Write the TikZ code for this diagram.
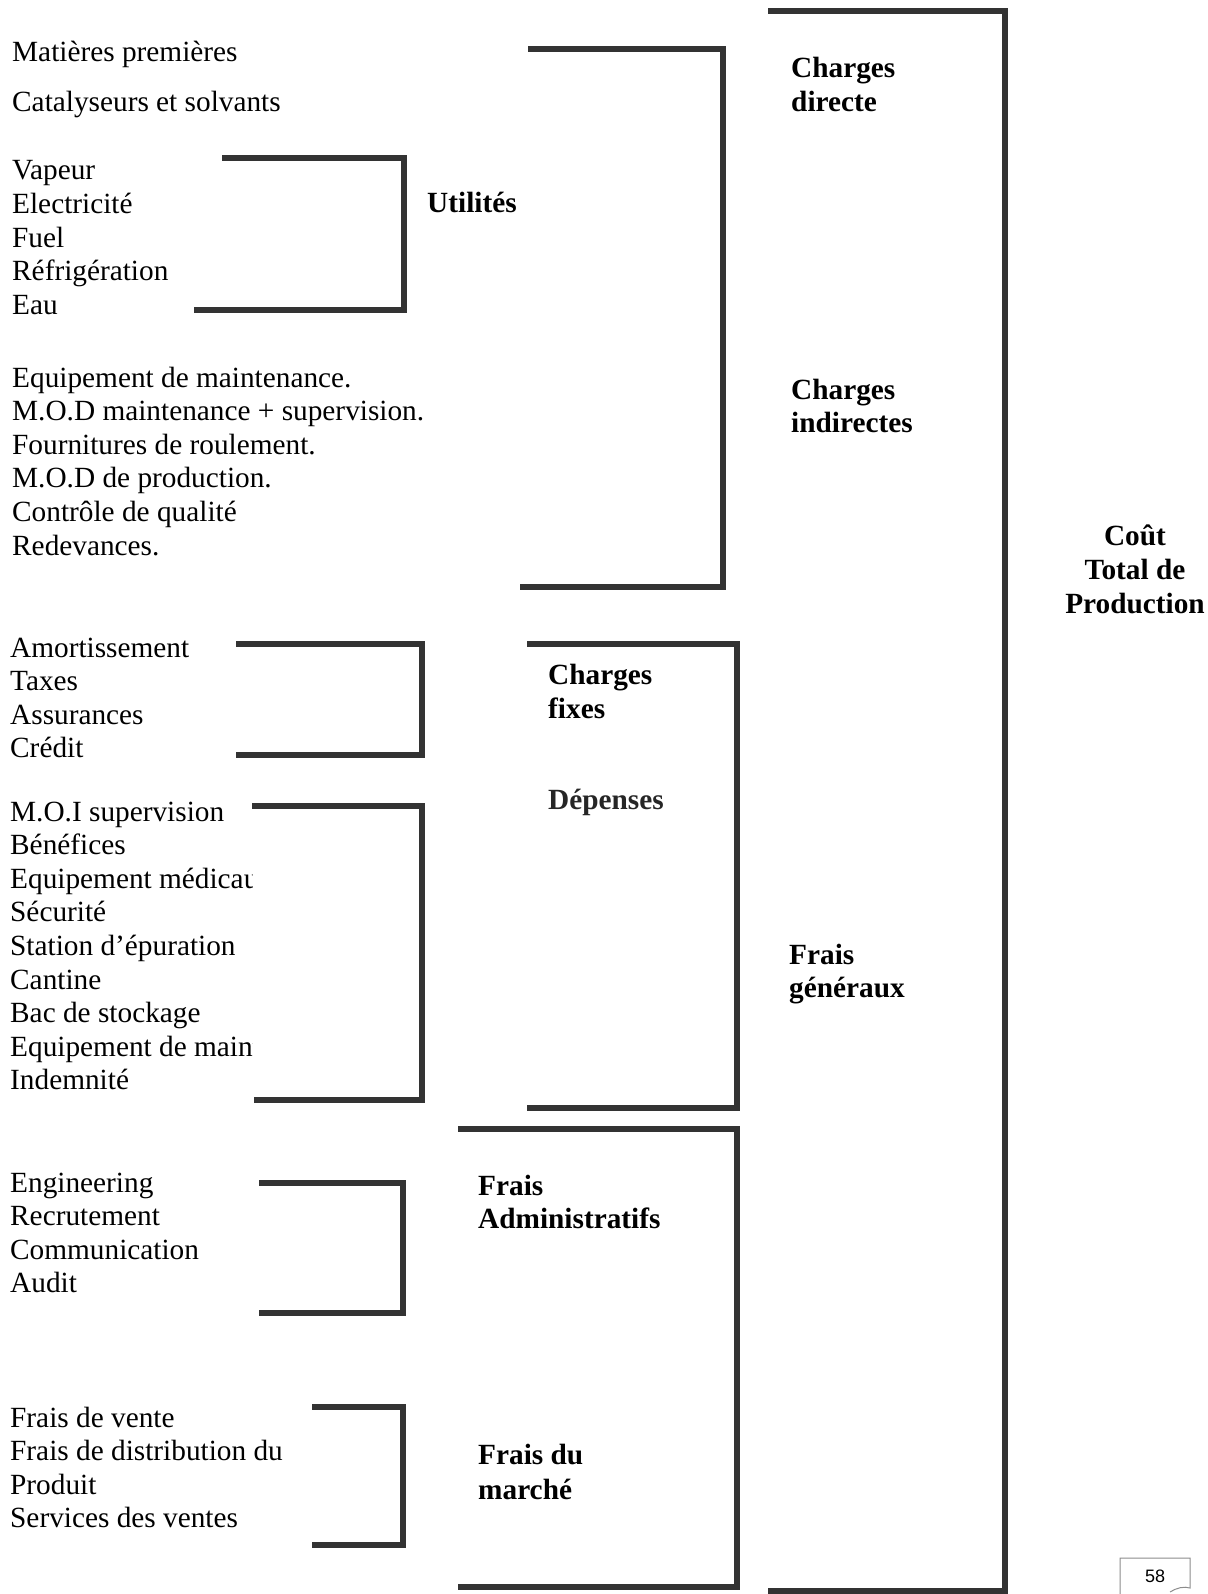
\documentclass[tikz,border=0pt]{standalone}
\usepackage{fontspec}
\setmainfont{Liberation Serif}
\newfontfamily\numfont{Liberation Sans}
\begin{document}
\begin{tikzpicture}[x=1pt,y=-1pt,
 item/.style={anchor=base west, inner sep=0pt, font=\fontsize{29.3}{33.6}\selectfont},
 lab/.style={anchor=base west, inner sep=0pt, font=\fontsize{29.3}{33.6}\selectfont\bfseries},
 clab/.style={anchor=base, inner sep=0pt, font=\fontsize{29.3}{33.6}\selectfont\bfseries},
 brk/.style={line width=5.5pt, draw=black!80, line cap=butt, line join=miter}]
\useasboundingbox (0,0) rectangle (1207,1594);

% left texts
\node[item] (a1) at (12,62) {Matières premières};
\node[item] (a2) at (12,112) {Catalyseurs et solvants};

\foreach \t [count=\i] in {Vapeur,Electricité,Fuel,Réfrigération,Eau}
  \node[item] (b\i) at (12,{180+33.6*(\i-1)}) {\t};

\foreach \t [count=\i] in {Equipement de maintenance.,M.O.D maintenance + supervision.,Fournitures de roulement.,M.O.D de production.,Contrôle de qualité,Redevances.}
  \node[item] (c\i) at (12,{387+33.6*(\i-1)}) {\t};

\foreach \t [count=\i] in {Amortissement,Taxes,Assurances,Crédit}
  \node[item] (d\i) at (10,{657+33.6*(\i-1)}) {\t};

\begin{scope}
\clip (0,780) rectangle (252,1110);
\foreach \t [count=\i] in {M.O.I supervision,Bénéfices,Equipement médicaux,Sécurité,Station d’épuration,Cantine,Bac de stockage,Equipement de maintenance,Indemnité}
  \node[item] (e\i) at (10,{821+33.6*(\i-1)}) {\t};
\end{scope}

\foreach \t [count=\i] in {Engineering,Recrutement,Communication,Audit}
  \node[item] (f\i) at (10,{1192+33.6*(\i-1)}) {\t};

\foreach \t [count=\i] in {Frais de vente,Frais de distribution du,Produit,Services des ventes}
  \node[item] (g\i) at (10,{1427+33.6*(\i-1)}) {\t};

% labels
\node[lab] (l1) at (791,78) {Charges};
\node[lab] (l2) at (791,112) {directe};
\node[lab] (l3) at (791,399) {Charges};
\node[lab] (l4) at (791,432) {indirectes};
\node[lab] (l5) at (427,213) {Utilités};
\node[lab] (l6) at (548,684) {Charges};
\node[lab] (l7) at (548,718) {fixes};
\node[lab, text=black!85] (l8) at (548,809) {Dépenses};
\node[lab] (l9) at (789,964) {Frais};
\node[lab] (l10) at (789,997) {généraux};
\node[lab] (l11) at (478,1195) {Frais};
\node[lab] (l12) at (478,1228) {Administratifs};
\node[lab] (l13) at (478,1464) {Frais du};
\node[lab] (l14) at (478,1499) {marché};
\node[clab] (t1) at (1135,545) {Coût};
\node[clab] (t2) at (1135,579) {Total de};
\node[clab] (t3) at (1135,613) {Production};

% brackets
\draw[brk] (528,49) -- (723,49) -- (723,587) -- (520,587);
\draw[brk] (222,158) -- (404,158) -- (404,310) -- (194,310);
\draw[brk] (768,11) -- (1005,11) -- (1005,1591) -- (768,1591);
\draw[brk] (527,644) -- (737,644) -- (737,1108) -- (527,1108);
\draw[brk] (236,644) -- (422,644) -- (422,755) -- (236,755);
\draw[brk] (252,806) -- (422,806) -- (422,1100) -- (254,1100);
\draw[brk] (458,1129) -- (737,1129) -- (737,1587) -- (458,1587);
\draw[brk] (259,1183) -- (403,1183) -- (403,1313) -- (259,1313);
\draw[brk] (312,1407) -- (403,1407) -- (403,1545) -- (312,1545);

% page number box
\draw[black!45, line width=1pt] (1120,1594) -- (1120,1558) -- (1190,1558) -- (1190,1588)
  .. controls (1184,1586) and (1176,1588) .. (1170,1592);
\node[inner sep=0pt, font=\numfont\fontsize{18}{20}\selectfont] (pg) at (1155,1576) {58};
\end{tikzpicture}
\end{document}
